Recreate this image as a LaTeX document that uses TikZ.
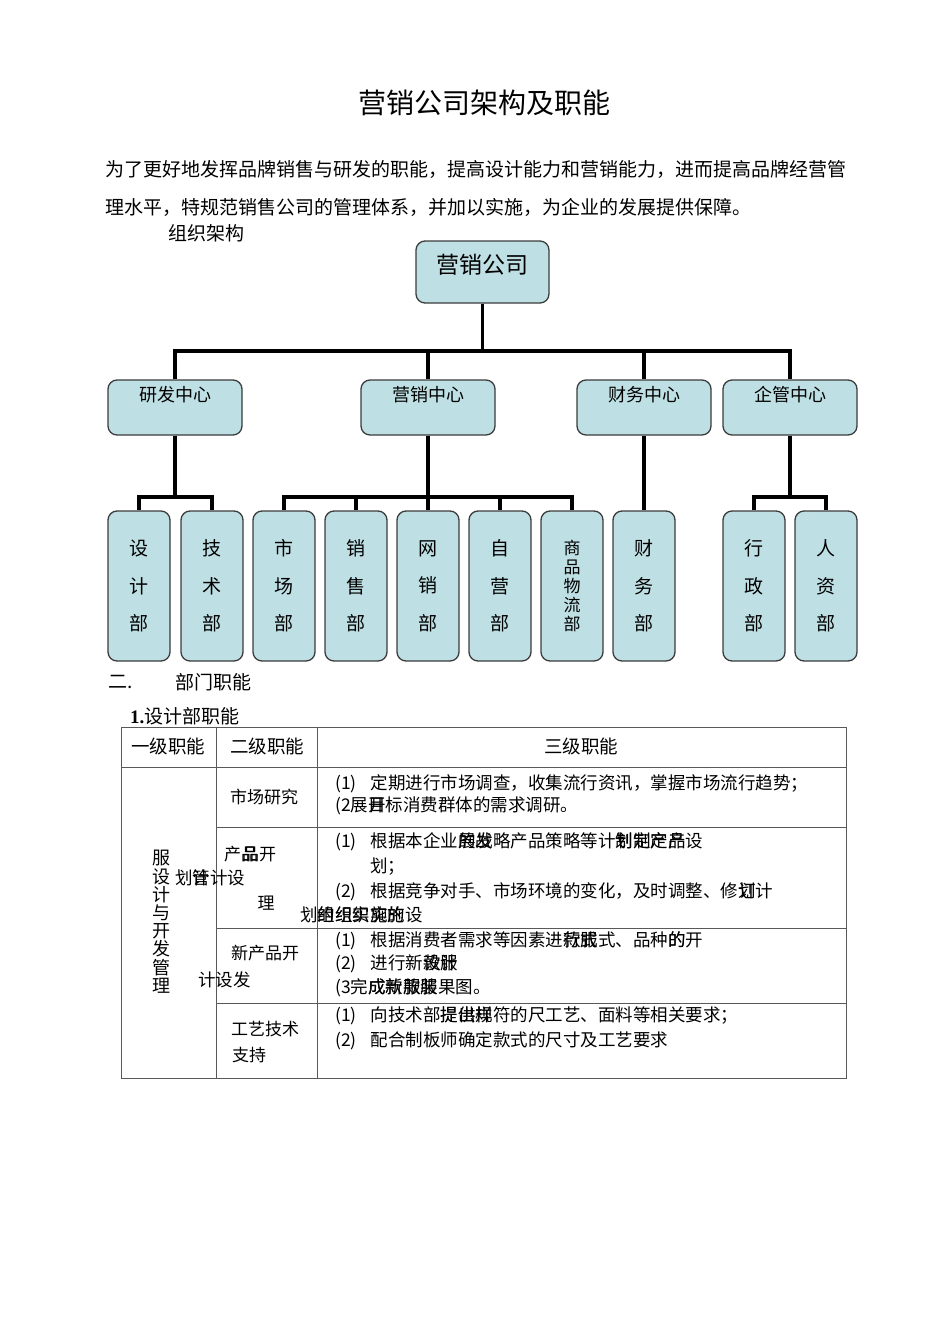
\documentclass[tikz,border=0pt]{standalone}
\usepackage{fontspec}
\setmainfont{Noto Sans CJK SC}
\newfontfamily\numfont{Liberation Serif}
\usepackage{xcolor}
\usetikzlibrary{positioning,calc}
\definecolor{boxfill}{HTML}{BEDFE3}
\definecolor{boxline}{HTML}{3C3C3C}
\newcommand{\ov}[2]{\rlap{#1}#2}

\begin{document}
\begin{tikzpicture}[x=1pt,y=-1pt,
  orgbox/.style={draw=boxline, line width=1.3pt, fill=boxfill, rounded corners=9pt, inner sep=0pt},
  topbox/.style={orgbox, minimum width=133pt, minimum height=62pt},
  centbox/.style={orgbox, minimum width=134pt, minimum height=55pt},
  deptbox/.style={orgbox, minimum width=62pt, minimum height=150pt, align=center},
  dtxt3/.style={font=\fontsize{19pt}{37.5pt}\selectfont},
  dtxt5/.style={font=\fontsize{17pt}{18.8pt}\selectfont},
  conn/.style={line width=3.5pt},
  tline/.style={draw=black!65, line width=0.9pt},
  txt/.style={inner sep=0pt, anchor=west},
  body/.style={txt, font=\fontsize{19pt}{23pt}\selectfont},
  cell/.style={txt, font=\fontsize{17.5pt}{21pt}\selectfont},
  vcol/.style={inner sep=0pt, align=center, font=\fontsize{18pt}{18.2pt}\selectfont}
]
\useasboundingbox (0,0) rectangle (950,1344);
\fill[white] (0,0) rectangle (950,1344);

\node[inner sep=0pt, font=\fontsize{28pt}{32pt}\selectfont] (title) at (484,103) {营销公司架构及职能};
\node[body] (par1) at (105,169) {为了更好地发挥品牌销售与研发的职能，提高设计能力和营销能力，进而提高品牌经营管};
\node[body] (par2) at (105,207) {理水平，特规范销售公司的管理体系，并加以实施，为企业的发展提供保障。};
\node[body] (orgtitle) at (168,233) {组织架构};

\node[topbox] (gs) at (482.5,272) {};
\node[inner sep=0pt, font=\fontsize{23pt}{26pt}\selectfont] (gs-t) at (482.5,265) {营销公司};

\foreach \nm/\x/\txt in {yf/175/研发中心,yx/428/营销中心,cw/644/财务中心,qg/790/企管中心} {
  \node[centbox] (\nm) at (\x,407.5) {};
  \node[inner sep=0pt, font=\fontsize{18pt}{21pt}\selectfont] (\nm-t) at (\x,395) {\txt};
}

\foreach \nm/\x/\txt/\sty in {sj/139/设\\计\\部/dtxt3,js/212/技\\术\\部/dtxt3,sc/284/市\\场\\部/dtxt3,xs/356/销\\售\\部/dtxt3,wx/428/网\\销\\部/dtxt3,zy/500/自\\营\\部/dtxt3,sp/572/商\\品\\物\\流\\部/dtxt5,cwb/644/财\\务\\部/dtxt3,xz/754/行\\政\\部/dtxt3,rz/826/人\\资\\部/dtxt3} {
  \node[deptbox,\sty] (\nm) at (\x,586) {\txt};
}

\coordinate (bus0) at (0,351);
\coordinate (bus1) at (0,497);
\foreach \c in {yf,yx,cw,qg} {
  \draw[conn] (gs.south) |- (bus0 -| \c.north) -- (\c.north);
}
\foreach \p/\c in {yf/sj,yf/js,yx/sc,yx/xs,yx/wx,yx/zy,yx/sp,qg/xz,qg/rz} {
  \draw[conn] (\p.south) |- (bus1 -| \c.north) -- (\c.north);
}
\draw[conn] (cw.south) -- (cwb.north);

\node[body] (sec2) at (108,682) {二.};
\node[body] (sec2t) at (175,682) {部门职能};
\node[body] (sec21) at (130,716) {{\numfont\bfseries 1.}设计部职能};

\draw[tline] (121,727) rectangle (846,1078);
\draw[tline] (216,727) -- (216,1078);
\draw[tline] (317,727) -- (317,1078);
\draw[tline] (121,767) -- (846,767);
\foreach \y in {827,928,1003} {
  \draw[tline] (216,\y) -- (846,\y);
}

\node[inner sep=0pt, font=\fontsize{18.5pt}{21pt}\selectfont] (h1) at (168,746) {一级职能};
\node[inner sep=0pt, font=\fontsize{18.5pt}{21pt}\selectfont] (h2) at (267,746) {二级职能};
\node[inner sep=0pt, font=\fontsize{18.5pt}{21pt}\selectfont] (h3) at (581,746) {三级职能};

\node[vcol] (c1a) at (161,858) {服};
\node[vcol, anchor=north] (c1b) at (161,868) {设\\计\\与\\开\\发\\管\\理};
\node[cell] (c1c) at (175,878) {划\ov{管}{计}计设};
\node[cell] (c1d) at (198,980) {计设发};

\node[inner sep=0pt, font=\fontsize{17pt}{20pt}\selectfont] (c2a) at (264,797) {市场研究};
\node[inner sep=0pt, font=\fontsize{17pt}{20pt}\selectfont] (c2b) at (250,854) {产\ov{品}{\kern1pt 品}开};
\node[inner sep=0pt, font=\fontsize{17pt}{20pt}\selectfont] (c2c) at (266,903) {理};
\node[inner sep=0pt, font=\fontsize{17pt}{20pt}\selectfont] (c2d) at (265,953) {新产品开};
\node[inner sep=0pt, font=\fontsize{17pt}{20pt}\selectfont] (c2e) at (265,1029) {工艺技术};
\node[txt, font=\fontsize{17pt}{20pt}\selectfont] (c2f) at (232,1055) {支持};

\node[cell] (r1a) at (335,784) {(1)\hspace{0.8em}定期进行市场调查，收集流行资讯，掌握市场流行趋势；};
\node[cell] (r1b) at (335,806) {(2展\ov{开}{目}标消费群体的需求调研。};
\node[cell] (r2a) at (335,842) {(1)\hspace{0.8em}根据本企业\ov{的发}{展战}略产品策略等计\ov{划制定产}{制定产品}设};
\node[cell] (r2b) at (370,867) {划；};
\node[cell] (r2c) at (335,892) {(2)\hspace{0.8em}根据竞争对手、市场环境的变化，及时调整、修\ov{订}{划}计};
\node[cell] (r2d) at (300,915) {划\ov{的组织实施}{组织实施的}设};
\node[cell] (r3a) at (335,941) {(1)\hspace{0.8em}根据消费者需求等因素进\ov{行服}{款式}式、品种\ov{的}{的}开};
\node[cell] (r3b) at (335,964) {(2)\hspace{0.8em}进行新\ov{款服}{设计}};
\node[cell] (r3c) at (335,988) {(3完\ov{成新款服}{成款服装}果图。};
\node[cell] (r4a) at (335,1016) {(1)\hspace{0.8em}向技术部\ov{提供样}{提出规}符的尺工艺、面料等相关要求；};
\node[cell] (r4b) at (335,1041) {(2)\hspace{0.8em}配合制板师确定款式的尺寸及工艺要求};
\end{tikzpicture}
\end{document}
